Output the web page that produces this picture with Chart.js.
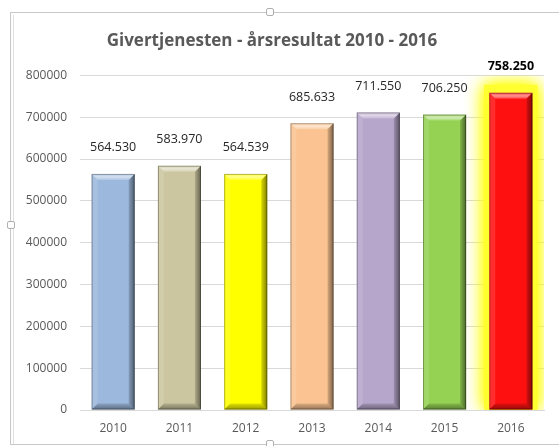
<!DOCTYPE html>
<html>
<head>
<meta charset="utf-8">
<script src="https://cdn.jsdelivr.net/npm/chart.js@4"></script>
<style>
    body { margin: 0; background: #fff; }
    #wrap { position: relative; width: 559px; height: 446px; overflow: hidden; }
    #frame { position: absolute; left: 10px; top: 12px; width: 560px; height: 431px;
             border: 1px solid #c8c8c8; pointer-events: none; }
    #frame2 { position: absolute; left: 13px; top: 15px; width: 1px; height: 429px;
              background: #e0e0e0; pointer-events: none; }
    .handle { position: absolute; width: 6px; height: 6px; background: #fff;
              border: 1px solid #b0b0b0; border-radius: 2px; }
</style>
</head>
<body>
<div id="wrap">
    <canvas id="chart" width="559" height="446"></canvas>
    <div id="frame"></div>
    <div id="frame2"></div>
    <div class="handle" style="left:266px; top:8px"></div>
    <div class="handle" style="left:7px; top:221px"></div>
    <div class="handle" style="left:266px; top:440px"></div>
</div>
<script>
document.addEventListener("DOMContentLoaded", function () {
    // data
    const years = ["2010", "2011", "2012", "2013", "2014", "2015", "2016"];
    const results = [564530, 583970, 564539, 685633, 711550, 706250, 758250];
    const labels = ["564.530", "583.970", "564.539", "685.633", "711.550", "706.250", "758.250"];
    const colors = ["#9cb8dc", "#cbc6a0", "#ffff00", "#fac391", "#b7a6cb", "#95d253", "#ff1010"];
    const yTicks = [0, 100000, 200000, 300000, 400000, 500000, 600000, 700000, 800000];

    const fontName = "'Open Sans', sans-serif";

    // yellow glow behind the last bar
    const glowPlugin = {
        id: "glow",
        beforeDatasetsDraw(chart) {
            const ctx = chart.ctx;
            const area = chart.chartArea;
            const bar = chart.getDatasetMeta(0).data[years.length - 1];
            const w = bar.width;
            ctx.save();
            ctx.beginPath();
            ctx.rect(area.left, area.top, area.right - area.left, area.bottom - area.top);
            ctx.clip();
            ctx.shadowColor = "rgba(255,255,0,1)";
            ctx.shadowBlur = 18;
            ctx.fillStyle = "#ffff30";
            ctx.fillRect(bar.x - w / 2 - 5, bar.y - 8, w + 10, bar.base - bar.y + 8);
            ctx.fillRect(bar.x - w / 2 - 5, bar.y - 8, w + 10, bar.base - bar.y + 8);
            ctx.restore();
        }
    };

    // bevel edges + value labels
    const bevelPlugin = {
        id: "bevel",
        afterDatasetsDraw(chart) {
            const ctx = chart.ctx;
            const meta = chart.getDatasetMeta(0);
            meta.data.forEach(function (bar, i) {
                const L = bar.x - bar.width / 2, R = bar.x + bar.width / 2;
                const T = bar.y, B = bar.base;
                const b = 6;
                function poly(pts, fill) {
                    ctx.beginPath();
                    ctx.moveTo(pts[0][0], pts[0][1]);
                    for (let k = 1; k < pts.length; k++) ctx.lineTo(pts[k][0], pts[k][1]);
                    ctx.closePath();
                    ctx.fillStyle = fill;
                    ctx.fill();
                }
                ctx.save();
                poly([[L, T], [L + b, T + b], [L + b, B - b], [L, B]], "rgba(255,255,255,0.12)");
                const top = ctx.createLinearGradient(0, T, 0, T + b);
                top.addColorStop(0, "rgba(255,255,255,0.25)");
                top.addColorStop(0.5, "rgba(255,255,255,0.55)");
                top.addColorStop(1, "rgba(255,255,255,0.2)");
                poly([[L, T], [R, T], [R - b, T + b], [L + b, T + b]], top);
                const right = ctx.createLinearGradient(R - b, 0, R, 0);
                right.addColorStop(0, "rgba(0,0,0,0.15)");
                right.addColorStop(1, "rgba(0,0,0,0.5)");
                poly([[R, T], [R, B], [R - b, B - b], [R - b, T + b]], right);
                const bottom = ctx.createLinearGradient(0, B - b, 0, B);
                bottom.addColorStop(0, "rgba(0,0,0,0.12)");
                bottom.addColorStop(1, "rgba(0,0,0,0.4)");
                poly([[L, B], [R, B], [R - b, B - b], [L + b, B - b]], bottom);
                ctx.strokeStyle = "rgba(0,0,0,0.3)";
                ctx.lineWidth = 1;
                ctx.strokeRect(L + 0.5, T + 0.5, R - L - 1, B - T - 1);
                ctx.restore();

                // value label
                ctx.save();
                const last = i === years.length - 1;
                ctx.font = (last ? "bold " : "") + "12.5px " + fontName;
                ctx.fillStyle = last ? "#000" : "#262626";
                ctx.textAlign = "center";
                ctx.textBaseline = "middle";
                ctx.fillText(labels[i], bar.x, bar.y - 26);
                ctx.restore();
            });
        }
    };

    const ctx = document.getElementById("chart").getContext("2d");
    new Chart(ctx, {
        type: "bar",
        data: {
            labels: years,
            datasets: [{
                data: results,
                backgroundColor: colors,
                borderWidth: 0,
                barPercentage: 0.65,
                categoryPercentage: 1
            }]
        },
        plugins: [glowPlugin, bevelPlugin],
        options: {
            responsive: false,
            animation: false,
            layout: { padding: { left: 0, right: 15, top: 0, bottom: 0 } },
            plugins: {
                legend: { display: false },
                tooltip: { enabled: false },
                title: {
                    display: true,
                    text: "Givertjenesten - årsresultat 2010 - 2016",
                    color: "#595959",
                    font: { family: fontName, size: 17, weight: "bold" },
                    padding: { top: 31, bottom: 24 }
                }
            },
            scales: {
                x: {
                    grid: { display: false, drawTicks: false },
                    border: { color: "#d9d9d9" },
                    ticks: { color: "#595959", font: { family: fontName, size: 12 }, padding: 11 },
                    afterFit(scale) { scale.height = 36; }
                },
                y: {
                    min: 0,
                    max: 800000,
                    afterBuildTicks(scale) { scale.ticks = yTicks.map(v => ({ value: v })); },
                    grid: { color: "#d9d9d9", drawTicks: false },
                    border: { display: false },
                    ticks: {
                        color: "#595959",
                        font: { family: fontName, size: 12 },
                        padding: 13,
                        callback: v => String(v)
                    },
                    afterFit(scale) { scale.width = 80; }
                }
            }
        }
    });
});
</script>
</body>
</html>
